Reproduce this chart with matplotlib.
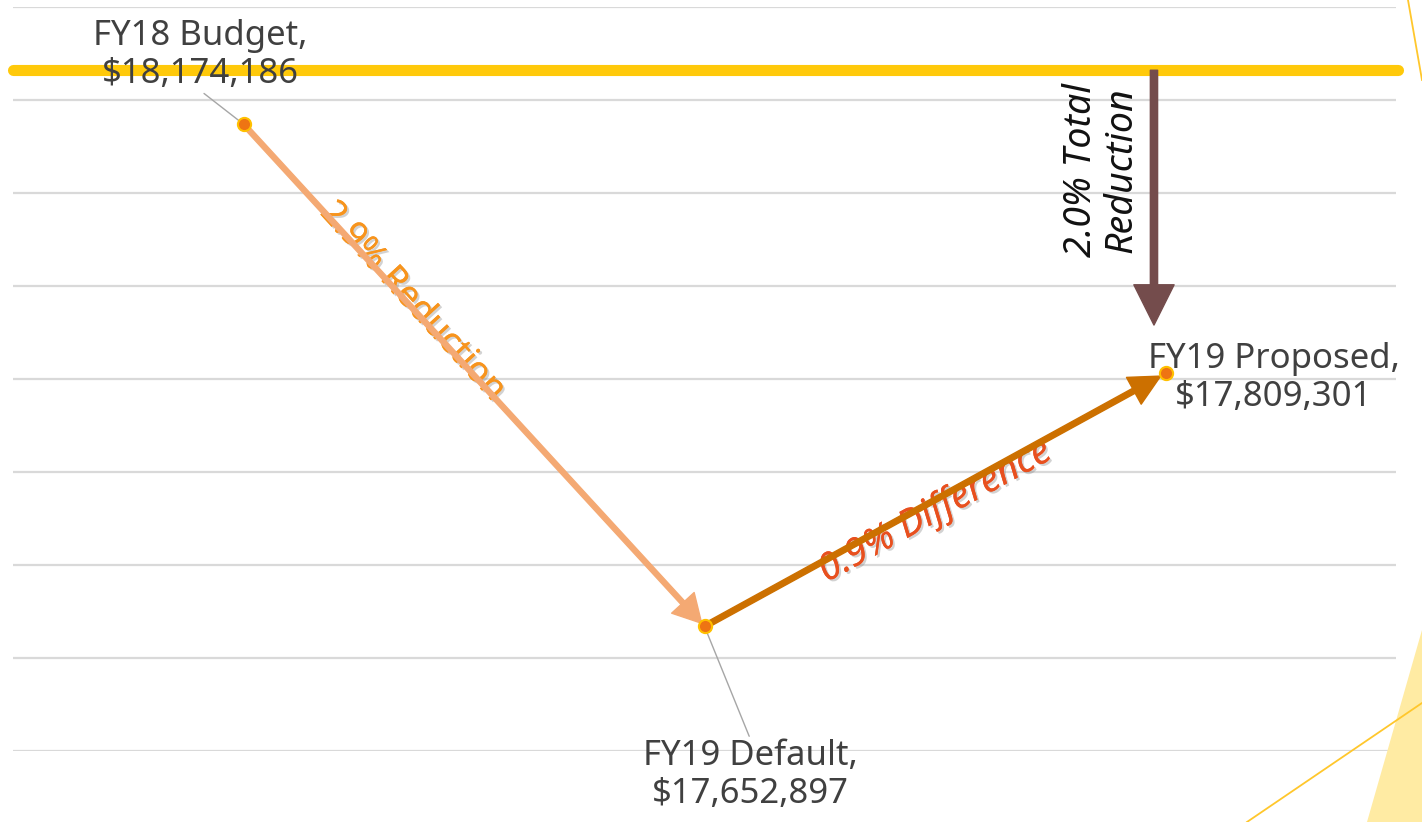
import numpy as np
import matplotlib
matplotlib.use("Agg")
import matplotlib.pyplot as plt
from matplotlib.patches import Polygon, FancyArrowPatch
from matplotlib.lines import Line2D
import matplotlib.patheffects as pe

plt.rcParams['font.family'] = ['Noto Sans', 'DejaVu Sans']

# Données
names = ['FY18 Budget', 'FY19 Default', 'FY19 Proposed']
amounts = [18174186, 17652897, 17809301]
# hauteurs telles que tracées sur le graphique d'origine (unités de grille)
heights = [6.74, 1.34, 4.06]
reference_level = 7.32      # ligne jaune du haut
pct_labels = ['2.9% Reduction', '0.9% Difference', '2.0% Total\nReduction']

x = np.arange(len(names))

fig = plt.figure(figsize=(14.22, 8.22), dpi=100)
ax = fig.add_axes([13 / 1422, 71 / 822, 1383 / 1422, 744 / 822])
ax.set_xlim(-0.5, 2.5)
ax.set_ylim(0, 8)
ax.set_yticks(range(0, 9))
ax.set_xticks([])
ax.tick_params(left=False, labelleft=False)
for s in ax.spines.values():
    s.set_visible(False)
ax.grid(axis='y', color='#D9D9D9', linewidth=1.6)
ax.set_axisbelow(True)

# Décor en bas à droite / haut à droite
fig.patches.append(Polygon([(1367 / 1422, 0), (1, 1 - 630 / 822), (1, 0)],
                           closed=True, transform=fig.transFigure,
                           facecolor='#FFEBA3', edgecolor='none', zorder=0))
fig.lines.append(Line2D([1247 / 1422, 1], [0, 1 - 703 / 822], transform=fig.transFigure,
                        color='#FFC72C', linewidth=1.3))
fig.lines.append(Line2D([1408 / 1422, 1], [1, 1 - 80 / 822], transform=fig.transFigure,
                        color='#FFC72C', linewidth=1.3))

# Ligne jaune de référence
ax.plot([-0.5, 2.505], [reference_level, reference_level], color='#FFC90A',
        linewidth=8, solid_capstyle='round', clip_on=False, zorder=3)


def line_angle(p0, p1):
    a = ax.transData.transform(p0)
    b = ax.transData.transform(p1)
    return np.degrees(np.arctan2(b[1] - a[1], b[0] - a[0]))


shadow = [pe.withSimplePatchShadow(offset=(1.5, -1.5), shadow_rgbFace='#808080', alpha=0.35),
          pe.Normal()]

# Textes des pourcentages (sous les flèches)
ang1 = line_angle((x[0], heights[0]), (x[1], heights[1]))
ax.text(0.367, 4.83, pct_labels[0], rotation=ang1, rotation_mode='anchor',
        ha='center', va='center', fontsize=25.5, color='#F7941D',
        path_effects=shadow, zorder=4)

ang2 = line_angle((x[1], heights[1]), (x[2], heights[2]))
ax.text(1.50, 2.58, pct_labels[1], rotation=ang2, rotation_mode='anchor',
        ha='center', va='center', fontsize=27, color='#E8501F', style='italic',
        path_effects=shadow, zorder=4)

ax.text(1.86, 6.25, pct_labels[2], rotation=90, rotation_mode='anchor',
        ha='center', va='center', multialignment='center', fontsize=27,
        color='#111111', style='italic', linespacing=1.1, zorder=4)

# Flèches
arr1 = FancyArrowPatch((x[0], heights[0]), (x[1], heights[1]),
                       arrowstyle='simple,head_length=1.0,head_width=1.1,tail_width=0.18',
                       mutation_scale=20, color='#F4A973', shrinkA=0, shrinkB=3, zorder=5)
ax.add_patch(arr1)
arr2 = FancyArrowPatch((x[1], heights[1]), (x[2], heights[2]),
                       arrowstyle='simple,head_length=1.1,head_width=1.1,tail_width=0.2',
                       mutation_scale=20, color='#CC7000', shrinkA=0, shrinkB=4, zorder=5)
ax.add_patch(arr2)
arr3 = FancyArrowPatch((x[2] - 0.025, reference_level), (x[2] - 0.025, heights[2] + 0.52),
                       arrowstyle='simple,head_length=1.0,head_width=1.0,tail_width=0.18',
                       mutation_scale=29, color='#744C4C', shrinkA=0, shrinkB=0, zorder=5)
ax.add_patch(arr3)

# Points
ax.plot(x, heights, linestyle='none', marker='o', markersize=9.5,
        markerfacecolor='#EE7413', markeredgecolor='#FFC000', markeredgewidth=1.5, zorder=7)

# Étiquettes des points
offsets = [(-31, 50), (33, -107), (78, -3)]
relpos = [(0.5, 0.0), (0.5, 1.0), None]
for i in range(len(names)):
    txt = f"{names[i]},\n${amounts[i]:,}"
    props = None
    if relpos[i] is not None:
        props = dict(arrowstyle='-', color='#A6A6A6', linewidth=1.0,
                     relpos=relpos[i], shrinkA=0, shrinkB=2)
    ax.annotate(txt, xy=(x[i], heights[i]), xytext=offsets[i], textcoords='offset points',
                ha='center', va='center', multialignment='center', fontsize=25,
                color='#404040', linespacing=1.15, arrowprops=props,
                annotation_clip=False, zorder=6)

fig.savefig('out.png', dpi=100)
